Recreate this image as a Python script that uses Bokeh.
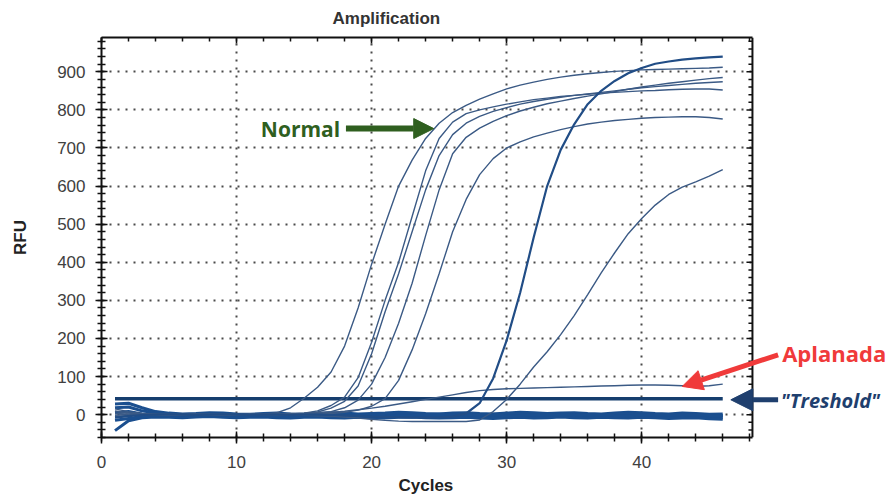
from bokeh.plotting import figure
from bokeh.models import (Range1d, LinearAxis, SingleIntervalTicker, Label,
                          Arrow, NormalHead, Span, BoxAnnotation, Title)
from bokeh.embed import file_html
from bokeh.resources import INLINE

# ---- data -------------------------------------------------------------
cycles = list(range(1, 47))

threshold = 42

# amplification curves (RFU per cycle)
curve_a = [8, 4, 2, 1, 0, -1, 0, 1, 0, -1, 0, 1, 5, 18, 43, 72, 112, 180, 280, 395,
           500, 600, 668, 725, 765, 793, 812, 828, 842, 855, 865, 873, 880, 886, 891, 895,
           898, 901, 903, 905, 906, 907, 908, 909, 910, 912]
curve_b1 = [-5, -2, 0, 1, 0, 1, 0, -1, 0, 1, 0, 0, 1, 2, 4, 10, 24, 46, 97, 190,
            300, 400, 520, 640, 725, 768, 790, 800, 808, 815, 821, 827, 831, 835, 838, 841,
            844, 846, 848, 850, 851, 853, 854, 855, 855, 852]
curve_b2 = [2, 0, -1, 0, 1, 0, -1, 0, 1, 0, 0, 1, 0, 1, 3, 7, 17, 35, 75, 160,
            270, 370, 480, 590, 680, 735, 765, 783, 796, 806, 815, 822, 828, 833, 838, 842,
            846, 850, 854, 858, 861, 864, 867, 870, 872, 874]
curve_c = [3, 1, -1, 0, 1, 0, -1, 0, 1, 0, -1, 0, 1, 0, 2, 4, 8, 18, 38, 80,
           150, 240, 345, 470, 590, 685, 728, 752, 770, 785, 797, 807, 816, 823, 830, 836,
           842, 848, 854, 860, 865, 870, 874, 878, 882, 885]
curve_d = [-2, 0, 1, 0, -1, 0, 1, 0, -1, 0, 1, 0, -1, 0, 1, 2, 3, 6, 12, 22,
           42, 90, 170, 265, 370, 480, 565, 630, 672, 700, 716, 729, 739, 748, 756, 763,
           768, 772, 775, 778, 780, 781, 782, 782, 780, 776]
curve_e = [-8, -4, -1, 0, 1, 0, -1, 0, 1, 0, -1, 0, 0, -1, 0, 0, -1, -2, -3, -5,
           -6, -7, -8, -8, -7, -5, 3, 30, 95, 195, 320, 465, 600, 695, 762, 815,
           850, 876, 896, 910, 921, 927, 932, 935, 938, 940]
curve_f = [10, 5, 2, 0, -1, 0, 1, 0, -1, 0, 1, 0, -1, -2, -2, -3, -4, -6, -9, -12,
           -15, -17, -18, -18, -18, -18, -18, -14, 8, 40, 80, 125, 165, 210, 260, 315,
           372, 425, 475, 515, 550, 578, 597, 611, 626, 643]
curve_flat = [15, 8, 3, 1, 0, -1, 0, 1, 0, -1, 0, 1, 2, 3, 4, 6, 6, 9, 13, 17,
              22, 28, 34, 40, 46, 52, 58, 63, 66, 68, 69, 70, 71, 72, 73, 74,
              75, 76, 77, 78, 78, 77, 76, 74, 76, 80]

# negative / background wells
base_1 = [28, 30, 18, 8, 4, 2, 3, 5, 4, 2, 1, 3, 4, 2, 1, 3, 5, 4, 2, 3,
          4, 6, 5, 3, 2, 4, 5, 3, 2, 4, 6, 5, 3, 4, 5, 3, 2, 4, 6, 5,
          3, 2, 4, 3, 1, 2]
base_2 = [18, 20, 10, 4, 1, 0, -1, 1, 2, 0, -1, 0, 1, -1, -2, 0, 1, 0, -1, 1,
          2, 0, -1, 0, 1, 2, 0, -1, 1, 2, 1, -1, 0, 1, 0, -2, -1, 1, 2, 0,
          -1, 0, 1, -1, -3, -2]
base_3 = [5, 8, 2, -2, -4, -5, -3, -2, -4, -5, -3, -4, -6, -4, -3, -5, -6, -4, -3, -5,
          -4, -2, -4, -6, -5, -3, -4, -5, -6, -4, -3, -5, -6, -4, -3, -4, -5, -3, -4, -6,
          -5, -4, -3, -5, -7, -8]
base_4 = [-42, -16, -8, -6, -7, -8, -6, -5, -7, -8, -7, -6, -8, -9, -7, -6, -8, -9, -7, -8,
          -9, -7, -6, -8, -9, -8, -7, -9, -10, -8, -7, -9, -8, -6, -8, -9, -7, -8, -9, -7,
          -8, -10, -9, -8, -11, -12]
base_5 = [-15, -10, -5, -3, -2, 0, 1, -1, -2, -1, 0, -2, -3, -1, 0, -1, -2, -3, -1, 0,
          -2, -3, -2, 0, 1, -1, -2, 0, -1, -3, -2, 0, 1, -1, -2, -1, 0, -2, -3, -1,
          0, -1, -2, 0, -2, -4]

# ---- layout constants -------------------------------------------------
X_END = 48.2          # right edge of the chart box (cycles)
X_VIEW = 58.2         # extra room on the right for the callouts
Y_START, Y_END = -60, 990
PX_PER_CYCLE = 13.5

# ---- figure -----------------------------------------------------------
p = figure(width=887, height=501, output_backend="svg", toolbar_location=None,
           x_range=Range1d(0, X_VIEW), y_range=Range1d(Y_START, Y_END),
           min_border_left=101, min_border_right=0, min_border_top=37,
           min_border_bottom=64, title="Amplification", y_axis_label="RFU")
p.background_fill_color = "white"
p.border_fill_color = "white"
p.outline_line_color = None

p.title.text_font = "Liberation Sans"
p.title.text_font_size = "17px"
p.title.text_font_style = "bold"
p.title.text_color = "#333333"
p.title.vertical_align = "top"
p.title.align = "left"
p.title.offset = 231
p.title.standoff = 16

x_ticker = SingleIntervalTicker(interval=10, num_minor_ticks=5)
y_ticker = SingleIntervalTicker(interval=100, num_minor_ticks=5)


def style_axis(ax, labelled=True, outside=True):
    ax.axis_line_color = "#111111"
    ax.axis_line_width = 2
    ax.major_tick_line_color = "#111111"
    ax.minor_tick_line_color = "#111111"
    ax.major_tick_line_width = 1.5
    ax.minor_tick_line_width = 1.5
    ax.major_tick_in = 6
    ax.minor_tick_in = 4
    ax.major_tick_out = 6 if outside else 0
    ax.minor_tick_out = 4 if outside else 0
    if labelled:
        ax.major_label_text_font = "Liberation Sans"
        ax.major_label_text_font_size = "17px"
        ax.major_label_text_color = "#404040"
        ax.axis_label_text_font = "Liberation Sans"
        ax.axis_label_text_font_size = "17px"
        ax.axis_label_text_font_style = "bold"
        ax.axis_label_text_color = "#222222"
    else:
        ax.major_label_text_font_size = "0px"
        ax.major_label_standoff = 0


xa = p.xaxis[0]
xa.ticker = x_ticker
xa.bounds = (0, X_END)
style_axis(xa)
xa.major_label_standoff = 12

ya = p.yaxis[0]
ya.ticker = y_ticker
style_axis(ya)
ya.major_label_standoff = 10
ya.axis_label_standoff = 24

top_axis = LinearAxis(ticker=x_ticker, bounds=(0, X_END))
style_axis(top_axis, labelled=False, outside=False)
p.add_layout(top_axis, "above")

# x-axis title, centred under the chart box
x_title = Title(text="Cycles", align="left", offset=297, standoff=6,
                text_font="Liberation Sans", text_font_size="17px",
                text_font_style="bold", text_color="#222222")
p.add_layout(x_title, "below")

for g in (p.xgrid[0], p.ygrid[0]):
    g.grid_line_color = "#4a4a4a"
    g.grid_line_width = 2
    g.grid_line_dash = "2 6"
p.xgrid[0].ticker = x_ticker
p.ygrid[0].ticker = y_ticker

# blank the callout margin to the right of the chart box
p.add_layout(BoxAnnotation(left=X_END, fill_color="white", fill_alpha=1,
                           line_color=None, level="glyph"))

# right edge of the chart box with inward ticks
p.add_layout(Span(location=X_END, dimension="height", line_color="#111111",
                  line_width=2))
minor_levels = [v for v in range(-40, Y_END, 20) if v % 100 != 0]
major_levels = list(range(0, Y_END, 100))
p.segment(x0=[X_END] * len(minor_levels), y0=minor_levels,
          x1=[X_END - 4 / PX_PER_CYCLE] * len(minor_levels), y1=minor_levels,
          line_color="#111111", line_width=1.5)
p.segment(x0=[X_END] * len(major_levels), y0=major_levels,
          x1=[X_END - 6 / PX_PER_CYCLE] * len(major_levels), y1=major_levels,
          line_color="#111111", line_width=1.5)

# background band of non-amplifying wells
band_color = "#1b4f8f"
for trace in (base_1, base_2, base_3, base_4, base_5):
    p.line(cycles, trace, line_color=band_color, line_width=3)

# threshold line
p.line(cycles, [threshold] * len(cycles), line_color="#163e6e", line_width=3.5)

# amplification curves
curve_color = "#3b5a85"
for trace in (curve_a, curve_b1, curve_b2, curve_c, curve_d, curve_f, curve_flat):
    p.line(cycles, trace, line_color=curve_color, line_width=1.4)
p.line(cycles, curve_e, line_color="#214d86", line_width=2.2)

# ---- annotations --------------------------------------------------------
green = "#2f5f1f"
red = "#f03a3a"
navy = "#1f3f6e"

p.add_layout(Label(x=11.8, y=751, text="Normal", text_font="Open Sans",
                   text_font_style="bold", text_font_size="21px",
                   text_color=green, text_baseline="middle"))
p.add_layout(Arrow(x_start=18.1, y_start=751, x_end=24.6, y_end=751,
                   line_color=green, line_width=6,
                   end=NormalHead(size=20, fill_color=green, line_color=green)))

p.add_layout(Label(x=50.4, y=163, text="Aplanada", text_font="Open Sans",
                   text_font_style="bold", text_font_size="22px",
                   text_color=red, text_baseline="middle"))
p.add_layout(Arrow(x_start=50.1, y_start=157, x_end=43.0, y_end=74,
                   line_color=red, line_width=5,
                   end=NormalHead(size=20, fill_color=red, line_color=red)))

p.add_layout(Label(x=50.3, y=37, text='"Treshold"', text_font="Open Sans",
                   text_font_style="bold italic", text_font_size="20px",
                   text_color=navy, text_baseline="middle"))
p.add_layout(Arrow(x_start=50.1, y_start=39, x_end=46.6, y_end=39,
                   line_color=navy, line_width=5,
                   end=NormalHead(size=22, fill_color=navy, line_color=navy)))

open("out.html", "w").write(file_html(p, INLINE))
